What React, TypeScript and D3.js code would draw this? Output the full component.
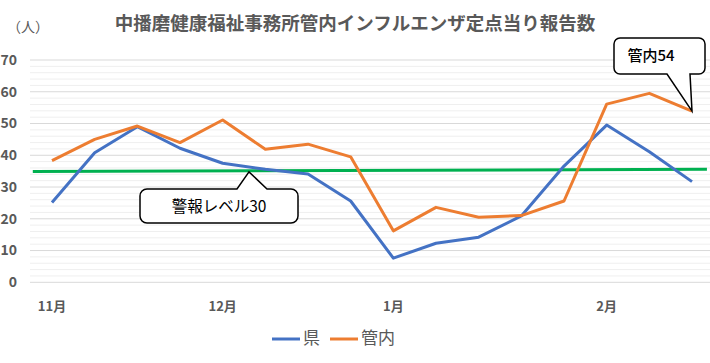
import React, { useRef, useEffect } from 'react';
import * as d3 from 'd3';

const title = '中播磨健康福祉事務所管内インフルエンザ定点当り報告数';
const unitLabel = '（人）';
const monthLabels = [
  { index: 0, label: '11月' },
  { index: 4, label: '12月' },
  { index: 8, label: '1月' },
  { index: 13, label: '2月' },
];
const prefValues = [25.1, 40.8, 49.0, 42.2, 37.5, 35.6, 34.1, 25.6, 7.6, 12.3, 14.2, 20.9, 36.6, 49.5, 41.1, 31.7];
const kannaiValues = [38.3, 45.0, 49.2, 44.0, 51.1, 41.9, 43.5, 39.5, 16.2, 23.6, 20.5, 21.0, 25.6, 56.1, 59.5, 53.9];
const warningLine = [
  { index: -0.45, value: 34.9 },
  { index: 15.35, value: 35.6 },
];
const yTicks = [0, 10, 20, 30, 40, 50, 60, 70];
const seriesNames = ['県', '管内'];
const warningText = '警報レベル30';
const kannaiText = '管内54';

const FONT = '"Noto Sans CJK JP", "Noto Sans", sans-serif';
const GRAY = '#595959';

const App: React.FC = () => {
  const svgRef = useRef<SVGSVGElement | null>(null);

  useEffect(() => {
    const svg = d3.select(svgRef.current);
    svg.selectAll('*').remove();

    const width = 710;
    const x = d3.scaleLinear().domain([0, 15]).range([52, 692]);
    const y = d3.scaleLinear().domain([0, 70]).range([282.3, 60]);

    svg.append('rect').attr('width', width).attr('height', 363).attr('fill', '#fff');

    // gridlines: minor every 2, major every 10
    const g = svg.append('g');
    d3.range(0, 71, 2).forEach(v => {
      const major = v % 10 === 0;
      g.append('line')
        .attr('x1', 30).attr('x2', width)
        .attr('y1', y(v)).attr('y2', y(v))
        .attr('stroke', major ? '#D9D9D9' : '#EFEFEF')
        .attr('stroke-width', 1);
    });

    // y labels
    g.selectAll('.ylab')
      .data(yTicks)
      .enter()
      .append('text')
      .attr('x', 17)
      .attr('y', d => y(d))
      .attr('dy', '0.35em')
      .attr('text-anchor', 'end')
      .attr('font-family', FONT)
      .attr('font-size', 14)
      .attr('font-weight', 'bold')
      .attr('fill', GRAY)
      .text(d => d);

    // month labels
    g.selectAll('.xlab')
      .data(monthLabels)
      .enter()
      .append('text')
      .attr('x', d => x(d.index))
      .attr('y', 306)
      .attr('dy', '0.35em')
      .attr('text-anchor', 'middle')
      .attr('font-family', FONT)
      .attr('font-size', 13)
      .attr('font-weight', 'bold')
      .attr('fill', GRAY)
      .text(d => d.label);

    // title + unit
    svg.append('text')
      .attr('x', 355).attr('y', 24).attr('dy', '0.35em')
      .attr('text-anchor', 'middle')
      .attr('font-family', FONT)
      .attr('font-size', 18.5)
      .attr('font-weight', 'bold')
      .attr('fill', GRAY)
      .text(title);
    svg.append('text')
      .attr('x', 28).attr('y', 27).attr('dy', '0.35em')
      .attr('text-anchor', 'middle')
      .attr('font-family', FONT)
      .attr('font-size', 14)
      .attr('fill', GRAY)
      .text(unitLabel);

    const line = d3.line<number>().x((_, i) => x(i)).y(d => y(d));

    // warning level line
    svg.append('path')
      .datum(warningLine)
      .attr('d', d3.line<{ index: number; value: number }>().x(d => x(d.index)).y(d => y(d.value)))
      .attr('fill', 'none')
      .attr('stroke', '#00B050')
      .attr('stroke-width', 3);

    svg.append('path')
      .datum(prefValues)
      .attr('d', line)
      .attr('fill', 'none')
      .attr('stroke', '#4472C4')
      .attr('stroke-width', 3)
      .attr('stroke-linejoin', 'round');

    svg.append('path')
      .datum(kannaiValues)
      .attr('d', line)
      .attr('fill', 'none')
      .attr('stroke', '#ED7D31')
      .attr('stroke-width', 3)
      .attr('stroke-linejoin', 'round');

    // callout for 管内54 (pointer down to the last point)
    const tipX = x(15);
    const tipY = y(kannaiValues[15]);
    const b1 = { x: 614, y: 38, w: 91, h: 36, r: 6 };
    const c1 = d3.path();
    c1.moveTo(b1.x + b1.r, b1.y);
    c1.lineTo(b1.x + b1.w - b1.r, b1.y);
    c1.arcTo(b1.x + b1.w, b1.y, b1.x + b1.w, b1.y + b1.r, b1.r);
    c1.lineTo(b1.x + b1.w, b1.y + b1.h - b1.r);
    c1.arcTo(b1.x + b1.w, b1.y + b1.h, b1.x + b1.w - b1.r, b1.y + b1.h, b1.r);
    c1.lineTo(690, b1.y + b1.h);
    c1.lineTo(tipX, tipY);
    c1.lineTo(667, b1.y + b1.h);
    c1.lineTo(b1.x + b1.r, b1.y + b1.h);
    c1.arcTo(b1.x, b1.y + b1.h, b1.x, b1.y + b1.h - b1.r, b1.r);
    c1.lineTo(b1.x, b1.y + b1.r);
    c1.arcTo(b1.x, b1.y, b1.x + b1.r, b1.y, b1.r);
    c1.closePath();
    svg.append('path')
      .attr('d', c1.toString())
      .attr('fill', '#fff')
      .attr('stroke', '#000')
      .attr('stroke-width', 1.5);
    svg.append('text')
      .attr('x', 651).attr('y', 56).attr('dy', '0.35em')
      .attr('text-anchor', 'middle')
      .attr('font-family', FONT)
      .attr('font-size', 15)
      .attr('font-weight', 500)
      .attr('fill', '#000')
      .text(kannaiText);

    // callout for 警報レベル30 (pointer up to the green line)
    const wTipX = 249;
    const wTipY = y(35.1) + 1;
    const b2 = { x: 140, y: 189, w: 158, h: 34, r: 7 };
    const c2 = d3.path();
    c2.moveTo(b2.x + b2.r, b2.y);
    c2.lineTo(237, b2.y);
    c2.lineTo(wTipX, wTipY);
    c2.lineTo(267, b2.y);
    c2.lineTo(b2.x + b2.w - b2.r, b2.y);
    c2.arcTo(b2.x + b2.w, b2.y, b2.x + b2.w, b2.y + b2.r, b2.r);
    c2.lineTo(b2.x + b2.w, b2.y + b2.h - b2.r);
    c2.arcTo(b2.x + b2.w, b2.y + b2.h, b2.x + b2.w - b2.r, b2.y + b2.h, b2.r);
    c2.lineTo(b2.x + b2.r, b2.y + b2.h);
    c2.arcTo(b2.x, b2.y + b2.h, b2.x, b2.y + b2.h - b2.r, b2.r);
    c2.lineTo(b2.x, b2.y + b2.r);
    c2.arcTo(b2.x, b2.y, b2.x + b2.r, b2.y, b2.r);
    c2.closePath();
    svg.append('path')
      .attr('d', c2.toString())
      .attr('fill', '#fff')
      .attr('stroke', '#000')
      .attr('stroke-width', 1.5);
    svg.append('text')
      .attr('x', 219).attr('y', 207).attr('dy', '0.35em')
      .attr('text-anchor', 'middle')
      .attr('font-family', FONT)
      .attr('font-size', 15.5)
      .attr('fill', '#000')
      .text(warningText);

    // legend
    const legend = [
      { name: seriesNames[0], color: '#4472C4', x: 272 },
      { name: seriesNames[1], color: '#ED7D31', x: 330 },
    ];
    legend.forEach(l => {
      svg.append('line')
        .attr('x1', l.x).attr('x2', l.x + 28)
        .attr('y1', 339).attr('y2', 339)
        .attr('stroke', l.color)
        .attr('stroke-width', 3);
      svg.append('text')
        .attr('x', l.x + 31).attr('y', 338).attr('dy', '0.35em')
        .attr('font-family', FONT)
        .attr('font-size', 17)
        .attr('fill', GRAY)
        .text(l.name);
    });
  }, []);

  return (
    <svg
      ref={svgRef}
      width={710}
      height={363}
      style={{ position: 'absolute', left: 0, top: 0, display: 'block' }}
    />
  );
};

export default App;
